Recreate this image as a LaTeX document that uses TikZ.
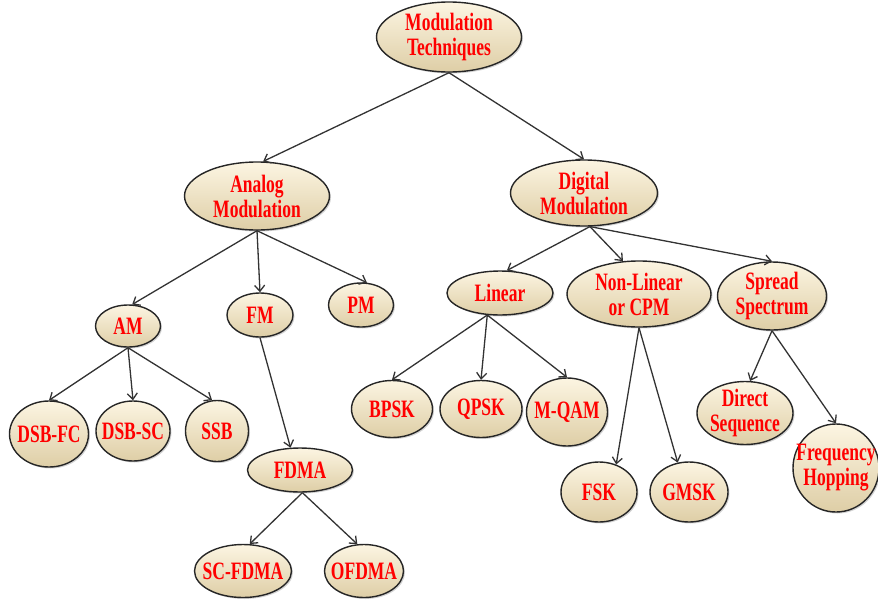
\documentclass[tikz,border=0pt]{standalone}
\usepackage{fontspec}
\setmainfont[FakeStretch=0.7]{Liberation Serif}
\usetikzlibrary{shapes.geometric,shadows,arrows.meta}
\definecolor{bubtop}{RGB}{252,245,226}
\definecolor{bubbot}{RGB}{222,206,166}
\begin{document}
\begin{tikzpicture}[
        x=1pt, y=-1pt,
        every path/.style={line width=1.3pt},
        bub/.style 2 args={ellipse, draw=black!85, line width=1.4pt,
            top color=bubtop, bottom color=bubbot,
            drop shadow={shadow xshift=1.5pt, shadow yshift=-1.5pt, opacity=0.35},
            minimum width=#1, minimum height=#2, inner sep=-15pt, align=center,
            text=red, font=\fontsize{25}{25}\selectfont\bfseries},
        arr/.style={draw=black!80, -{Straight Barb[length=6pt,width=10pt]}}
    ]
    \useasboundingbox (0,0) rectangle (878,600);

    \node[bub={145pt}{70pt}] (mt) at (449,37) {Modulation\\Techniques};
    \node[bub={145pt}{68pt}] (an) at (257,196) {Analog\\Modulation};
    \node[bub={147pt}{66pt}] (dg) at (584,193) {Digital\\Modulation};

    \node[bub={65pt}{42pt}] (am) at (128,326) {AM};
    \node[bub={66pt}{44pt}] (fm) at (260,315) {FM};
    \node[bub={65pt}{44pt}] (pm) at (361,305) {PM};
    \node[bub={106pt}{44pt}] (lin) at (500,293) {Linear};
    \node[bub={144pt}{66pt}] (nl) at (639,294) {Non-Linear\\or CPM};
    \node[bub={109pt}{68pt}] (ss) at (772,296) {Spread\\Spectrum};

    \node[bub={79pt}{66pt}] (dsbfc) at (49,434) {DSB-FC};
    \node[bub={74pt}{60pt}] (dsbsc) at (133,431) {DSB-SC};
    \node[bub={63pt}{61pt}] (ssb) at (217,431) {SSB};
    \node[bub={105pt}{44pt}] (fdma) at (300,470) {FDMA};
    \node[bub={97pt}{53pt}] (scf) at (243,571) {SC-FDMA};
    \node[bub={79pt}{53pt}] (ofdma) at (364,571) {OFDMA};

    \node[bub={81pt}{57pt}] (bpsk) at (392,409) {BPSK};
    \node[bub={82pt}{57pt}] (qpsk) at (481,409) {QPSK};
    \node[bub={81pt}{68pt}] (mqam) at (567,412) {M-QAM};
    \node[bub={76pt}{60pt}] (fsk) at (599,492) {FSK};
    \node[bub={78pt}{60pt}] (gmsk) at (689,492) {GMSK};
    \node[bub={96pt}{63pt}] (ds) at (745,413) {Direct\\Sequence};
    \node[bub={86pt}{88pt}] (fh) at (836,468) {Frequency\\Hopping};

    \draw[arr] (mt.south) -- (an.80);
    \draw[arr] (mt.south) -- (dg.north);

    \draw[arr] (an.south) -- (am.79);
    \draw[arr] (an.south) -- (fm.north);
    \draw[arr] (an.south) -- (pm.75);

    \draw[arr] (dg.-80) -- (lin.73);
    \draw[arr] (dg.-80) -- (nl.116);
    \draw[arr] (dg.-80) -- (ss.north);

    \draw[arr] (am.south) -- (dsbfc.north);
    \draw[arr] (am.south) -- (dsbsc.north);
    \draw[arr] (am.south) -- (ssb.99);

    \draw[arr] (fm.south) -- (fdma.113);
    \draw[arr] (fdma.-84) -- (scf.76);
    \draw[arr] (fdma.-84) -- (ofdma.104);

    \draw[arr] (lin.-120) -- (bpsk.north);
    \draw[arr] (lin.-120) -- (qpsk.north);
    \draw[arr] (lin.-120) -- (mqam.north);

    \draw[arr] (nl.south) -- (fsk.58);
    \draw[arr] (nl.south) -- (gmsk.111);

    \draw[arr] (ss.south) -- (ds.81);
    \draw[arr] (ss.south) -- (fh.north);
\end{tikzpicture}
\end{document}
